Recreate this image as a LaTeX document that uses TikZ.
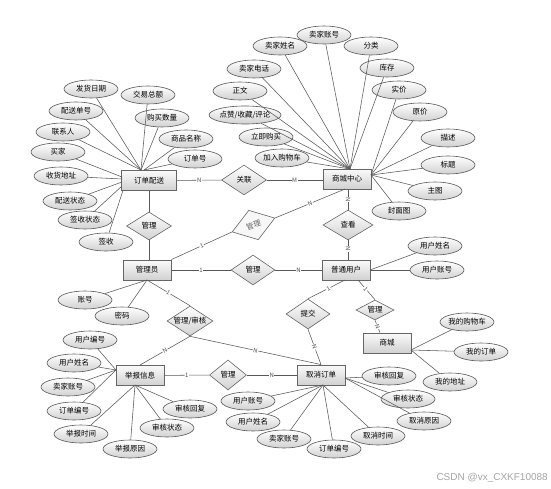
\documentclass[tikz,border=0pt]{standalone}
\usepackage{fontspec}
\setmainfont{Noto Sans CJK SC}
\newfontfamily\wmfont{Liberation Sans}
\usetikzlibrary{shapes.geometric,shadows}
\begin{document}
\begin{tikzpicture}[x=1pt,y=-1pt,
  line/.style={draw=black!65, line width=0.55pt},
  attr/.style={ellipse, draw=black!65, line width=0.6pt, top color=white, bottom color=black!18,
    minimum width=54pt, minimum height=18pt, inner sep=0pt, font=\fontsize{7.5}{8}\selectfont},
  ent/.style={rectangle, draw=black!60, line width=0.9pt, top color=black!2, bottom color=black!18,
    minimum width=48pt, minimum height=20pt, inner sep=0pt,
    drop shadow={shadow xshift=0.8pt, shadow yshift=-0.8pt, opacity=0.3},
    font=\fontsize{7.5}{8}\selectfont},
  relbase/.style={diamond, aspect=1.5, draw=black!60, line width=0.6pt,
    inner sep=0pt, minimum width=45pt, minimum height=30pt, font=\fontsize{7.5}{8}\selectfont},
  rel/.style={relbase, top color=white, bottom color=black!18},
  card/.style={font=\fontsize{6}{6}\selectfont, text=black!70, fill=white, inner sep=0.6pt, sloped}
]
\useasboundingbox[fill=white] (0,0) rectangle (551,489);

% ---------- entities ----------
\node[ent, minimum width=55pt] (ddps) at (149,180.5) {订单配送};
\node[ent] (scc) at (347,179) {商城中心};
\node[ent] (gly) at (147,270) {管理员};
\node[ent] (ptyh) at (346,270) {普通用户};
\node[ent] (sc) at (387,343) {商城};
\node[ent] (jbxx) at (140,375.5) {举报信息};
\node[ent] (qxdd) at (321,375) {取消订单};

% ---------- relations ----------
\node[rel] (r1) at (244,180) {关联};
\node[rel, minimum height=28pt] (r2) at (149,226) {管理};
\begin{scope}[shift={(253.5,225)}, rotate=18]
  \node[relbase, fill=black!3, text=black!60, minimum height=31pt, transform shape] (r3) at (0,0) {管理};
\end{scope}
\node[rel, minimum width=50pt] (r4) at (348,225) {查看};
\node[rel, minimum width=44pt] (r5) at (253,270) {管理};
\node[rel, minimum width=46pt] (r6) at (190,321) {管理/审核};
\node[rel, minimum width=44pt] (r7) at (308,314) {提交};
\node[rel, aspect=2, minimum width=38pt, minimum height=20pt] (r8) at (375,310) {管理};
\node[rel, minimum width=37pt] (r9) at (228,375) {管理};

% ---------- hub coordinates ----------
\coordinate (dT) at (141,170);
\coordinate (dT2) at (144,170);
\coordinate (dL1) at (122,177);
\coordinate (dL2) at (122,179);
\coordinate (dL3) at (122,182);
\coordinate (dL4) at (122,186);
\coordinate (dL5) at (123,190.5);
\coordinate (sT) at (350,169);
\coordinate (sR) at (371,175);
\coordinate (sB) at (345,189);
\coordinate (gB) at (147,280);
\coordinate (pR) at (370,270);
\coordinate (pB1) at (345,280);
\coordinate (pB2) at (358,280);
\coordinate (mR) at (411,350);
\coordinate (jL) at (116,370);
\coordinate (jB) at (135,385);
\coordinate (qB) at (323,385);
\coordinate (qR) at (345,378);

% ---------- attributes of 订单配送 ----------
\node[attr] (d1) at (91,89) {发货日期};
\node[attr] (d2) at (148,95) {交易总额};
\node[attr] (d3) at (76,111) {配送单号};
\node[attr] (d4) at (162,118) {购买数量};
\node[attr] (d5) at (63,132) {联系人};
\node[attr] (d6) at (186,139) {商品名称};
\node[attr] (d7) at (58,152) {买家};
\node[attr] (d8) at (195,159) {订单号};
\node[attr] (d9) at (61,176) {收货地址};
\node[attr] (d10) at (70,201) {配送状态};
\node[attr] (d11) at (85,220) {签收状态};
\node[attr] (d12) at (106,242) {签收};
\foreach \n in {d1,d2,d3,d4,d5} \draw[line] (\n) -- (dT);
\foreach \n in {d6,d8} \draw[line] (\n) -- (dT2);
\draw[line] (d7) -- (dL1);
\draw[line] (d9) -- (dL2);
\draw[line] (d10) -- (dL3);
\draw[line] (d11) -- (dL4);
\draw[line] (d12) -- (dL5);

% ---------- attributes of 商城中心 ----------
\node[attr] (s1) at (324,35) {卖家账号};
\node[attr] (s2) at (280,46) {卖家姓名};
\node[attr] (s3) at (371,46) {分类};
\node[attr] (s4) at (254,69) {卖家电话};
\node[attr] (s5) at (387,68) {库存};
\node[attr] (s6) at (240,91) {正文};
\node[attr] (s7) at (399,90) {实价};
\node[attr] (s8) at (245,115) {点赞/收藏/评论};
\node[attr] (s9) at (420,112) {原价};
\node[attr] (s10) at (266,137) {立即购买};
\node[attr] (s11) at (448,138) {描述};
\node[attr] (s12) at (282,158) {加入购物车};
\node[attr] (s13) at (448,165) {标题};
\node[attr] (s14) at (435,191) {主图};
\node[attr] (s15) at (399,211) {封面图};
\foreach \n in {s1,s2,s3,s4,s5,s6,s8,s10,s12} \draw[line] (\n) -- (sT);
\foreach \n in {s7,s9,s11,s13,s14,s15} \draw[line] (\n) -- (sR);

% ---------- attributes of 普通用户 / 管理员 / 商城 ----------
\node[attr] (p1) at (435,246) {用户姓名};
\node[attr] (p2) at (437,270) {用户账号};
\draw[line] (p1) -- (pR);
\draw[line] (p2) -- (pR);
\node[attr] (g1) at (85,300) {账号};
\node[attr] (g2) at (122,316) {密码};
\draw[line] (g1) -- (gB);
\draw[line] (g2) -- (gB);
\node[attr] (m1) at (467,322) {我的购物车};
\node[attr] (m2) at (481,352) {我的订单};
\node[attr] (m3) at (450,382) {我的地址};
\foreach \n in {m1,m2,m3} \draw[line] (\n) -- (mR);

% ---------- attributes of 举报信息 ----------
\node[attr] (j1) at (90,340) {用户编号};
\node[attr] (j2) at (74,363) {用户姓名};
\node[attr] (j3) at (68,387) {卖家账号};
\node[attr] (j4) at (74,411) {订单编号};
\node[attr] (j5) at (81,434) {举报时间};
\node[attr] (j6) at (130,449) {举报原因};
\node[attr] (j7) at (167,428) {审核状态};
\node[attr] (j8) at (190,409) {审核回复};
\foreach \n in {j1,j2,j3,j4} \draw[line] (\n) -- (jL);
\foreach \n in {j5,j6,j7,j8} \draw[line] (\n) -- (jB);

% ---------- attributes of 取消订单 ----------
\node[attr] (q1) at (389,376) {审核回复};
\node[attr] (q2) at (408,399) {审核状态};
\node[attr] (q3) at (424,421) {取消原因};
\node[attr] (q4) at (378,436) {取消时间};
\node[attr] (q5) at (334,449) {订单编号};
\node[attr] (q6) at (284,439) {卖家账号};
\node[attr] (q7) at (253,422) {用户姓名};
\node[attr] (q8) at (248,401) {用户账号};
\foreach \n in {q1,q2,q3} \draw[line] (\n) -- (qR);
\foreach \n in {q4,q5,q6,q7,q8} \draw[line] (\n) -- (qB);

% ---------- relationship connectors ----------
\draw[line] (ddps) -- node[card]{N} (r1);
\draw[line] (r1) -- node[card]{M} (scc.west |- r1);
\draw[line] (ddps.south) -- (r2.north);
\draw[line] (r2.south) -- (r2.south |- gly.north);
\draw[line] (gly.north east) -- node[card]{1} (r3.west);
\draw[line] (r3.east) -- node[card]{N} (sB);
\draw[line] (scc.south -| r4) -- node[card]{N} (r4.north);
\draw[line] (r4.south) -- node[card, pos=.45]{N} (ptyh.north -| r4);
\draw[line] (gly) -- node[card]{1} (r5);
\draw[line] (r5) -- node[card]{N} (ptyh);
\draw[line] (gB) -- node[card]{1} (r6.north);
\draw[line] (r6.south) -- node[card]{N} (jbxx.north);
\draw[line] (r6.south) -- node[card]{N} (qxdd.north);
\draw[line] (pB1) -- node[card, pos=.45]{1} (r7.north);
\draw[line] (r7.south) -- node[card]{N} (qxdd.north);
\draw[line] (pB2) -- node[card, pos=.45]{1} (r8.north);
\draw[line] (r8.south) -- node[card]{N} (sc.north -| 380,0);
\draw[line] (jbxx) -- node[card]{1} (r9);
\draw[line] (r9) -- node[card]{N} (qxdd);

% ---------- watermark ----------
\node[anchor=east, font=\wmfont\fontsize{10}{10}\selectfont, text=black!35, inner sep=0pt] (wm) at (548,478) {CSDN @vx\_CXKF10088};
\end{tikzpicture}
\end{document}
